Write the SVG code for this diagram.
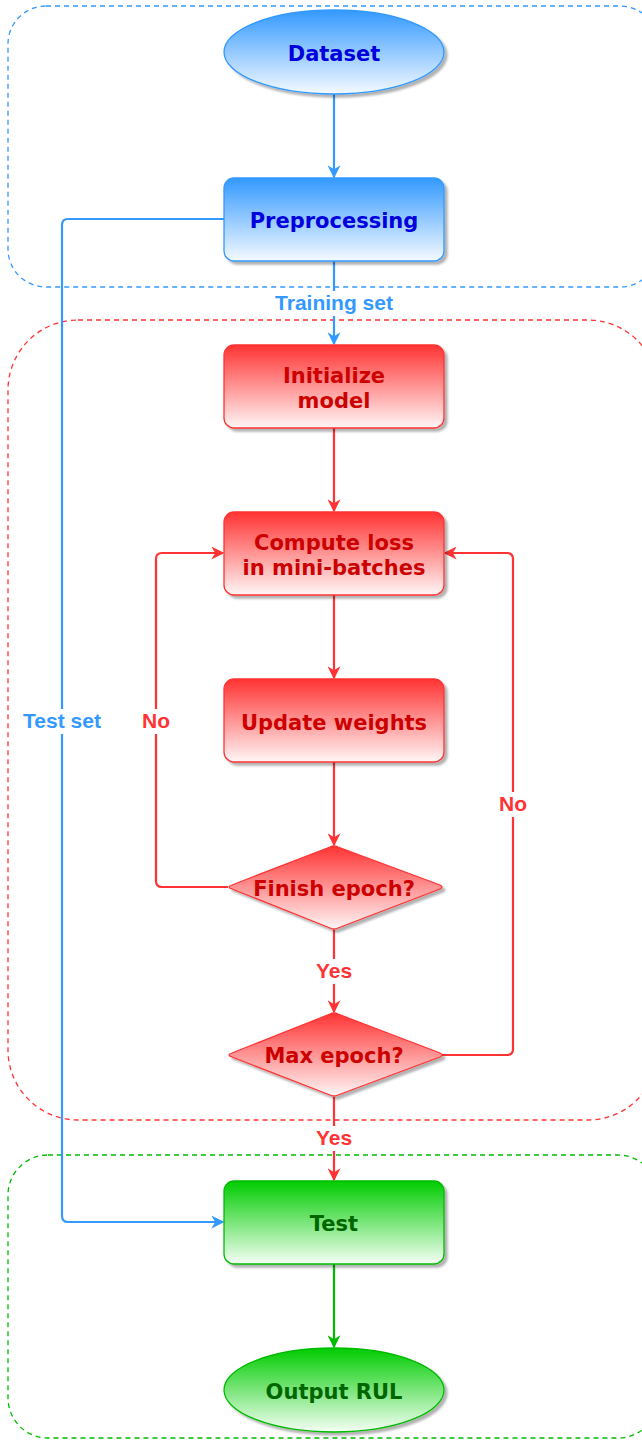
<svg xmlns="http://www.w3.org/2000/svg" width="642" height="1441" viewBox="0 0 642 1441">
<defs>
<linearGradient id="gb" x1="0" y1="0" x2="0" y2="1"><stop offset="0" stop-color="#3399FF"/><stop offset="1" stop-color="#F5FAFF"/></linearGradient>
<linearGradient id="gr" x1="0" y1="0" x2="0" y2="1"><stop offset="0" stop-color="#FF3333"/><stop offset="1" stop-color="#FFF6F6"/></linearGradient>
<linearGradient id="gg" x1="0" y1="0" x2="0" y2="1"><stop offset="0" stop-color="#00CC00"/><stop offset="1" stop-color="#F5FFF5"/></linearGradient>
<filter id="sh" x="-10%" y="-10%" width="125%" height="130%"><feDropShadow dx="3" dy="3" stdDeviation="1.2" flood-color="#000" flood-opacity="0.3"/></filter>
<marker id="ab" viewBox="0 0 10 10" refX="9" refY="5" markerWidth="13" markerHeight="13" markerUnits="userSpaceOnUse" orient="auto"><path d="M0,0 L10,5 L0,10 L3,5 z" fill="#3399FF"/></marker>
<marker id="ar" viewBox="0 0 10 10" refX="9" refY="5" markerWidth="13" markerHeight="13" markerUnits="userSpaceOnUse" orient="auto"><path d="M0,0 L10,5 L0,10 L3,5 z" fill="#FF3333"/></marker>
<marker id="ag" viewBox="0 0 10 10" refX="9" refY="5" markerWidth="13" markerHeight="13" markerUnits="userSpaceOnUse" orient="auto"><path d="M0,0 L10,5 L0,10 L3,5 z" fill="#00BB00"/></marker>
</defs>
<style>
.cont{fill:none;stroke-width:1.3;stroke-dasharray:5 4}
.nt{font-family:"DejaVu Sans",Verdana,sans-serif;font-weight:bold;font-size:21px;text-anchor:middle}
.lb{font-family:"Liberation Sans",Arial,sans-serif;font-weight:bold;font-size:21px;text-anchor:middle}
.blue{fill:url(#gb);stroke:#3399FF;stroke-width:1.3}
.red{fill:url(#gr);stroke:#FF3333;stroke-width:1.3}
.green{fill:url(#gg);stroke:#00BB00;stroke-width:1.3}
.cb{fill:none;stroke:#3399FF;stroke-width:2.2}
.cr{fill:none;stroke:#FF3333;stroke-width:2.2}
.cg{fill:none;stroke:#00BB00;stroke-width:2.2}
</style>
<g id="containers">
<rect class="cont" x="8" y="6" width="650" height="281" rx="38" stroke="#3399FF"/>
<rect class="cont" x="8" y="320" width="650" height="800" rx="70" stroke="#FF3333"/>
<rect class="cont" x="8" y="1155" width="650" height="283" rx="40" stroke="#00BB00"/>
</g>
<g id="connectors">
<path class="cb" d="M334,94 L334,177" marker-end="url(#ab)"/>
<path class="cb" d="M334,261 L334,344" marker-end="url(#ab)"/>
<path class="cb" d="M224,219 L68,219 Q62,219 62,225 L62,1216 Q62,1222 68,1222 L223,1222" marker-end="url(#ab)"/>
<path class="cr" d="M334,428 L334,511" marker-end="url(#ar)"/>
<path class="cr" d="M334,595 L334,678" marker-end="url(#ar)"/>
<path class="cr" d="M334,762 L334,845" marker-end="url(#ar)"/>
<path class="cr" d="M228,887 L162,887 Q156,887 156,881 L156,559 Q156,553 162,553 L223,553" marker-end="url(#ar)"/>
<path class="cr" d="M334,930 L334,1012" marker-end="url(#ar)"/>
<path class="cr" d="M440,1055 L507,1055 Q513,1055 513,1049 L513,559 Q513,553 507,553 L445,553" marker-end="url(#ar)"/>
<path class="cr" d="M334,1097 L334,1180" marker-end="url(#ar)"/>
<path class="cg" d="M334,1264 L334,1347" marker-end="url(#ag)"/>
<rect x="270" y="291" width="128" height="25" fill="#fff"/>
<text class="lb" x="334" y="310" fill="#3399FF">Training set</text>
<rect x="18" y="709" width="88" height="25" fill="#fff"/>
<text class="lb" x="62" y="728" fill="#3399FF">Test set</text>
<rect x="139" y="709" width="34" height="25" fill="#fff"/>
<text class="lb" x="156" y="728" fill="#FF3333">No</text>
<rect x="496" y="792" width="34" height="25" fill="#fff"/>
<text class="lb" x="513" y="811" fill="#FF3333">No</text>
<rect x="313" y="959" width="42" height="25" fill="#fff"/>
<text class="lb" x="334" y="978" fill="#FF3333">Yes</text>
<rect x="313" y="1126" width="42" height="25" fill="#fff"/>
<text class="lb" x="334" y="1145" fill="#FF3333">Yes</text>
</g>
<g id="dataset">
<ellipse class="blue" cx="334" cy="52" rx="110" ry="42" filter="url(#sh)"/>
<text class="nt" x="334" y="61" fill="#0000DD">Dataset</text>
</g>
<g id="preprocessing">
<rect class="blue" x="224" y="178" width="220" height="83" rx="10" filter="url(#sh)"/>
<text class="nt" x="334" y="228" fill="#0000DD">Preprocessing</text>
</g>
<g id="initialize">
<rect class="red" x="224" y="345" width="220" height="83" rx="10" filter="url(#sh)"/>
<text class="nt" x="334" y="383" fill="#CC0000">Initialize</text>
<text class="nt" x="334" y="408" fill="#CC0000">model</text>
</g>
<g id="compute">
<rect class="red" x="224" y="512" width="220" height="83" rx="10" filter="url(#sh)"/>
<text class="nt" x="334" y="550" fill="#CC0000">Compute loss</text>
<text class="nt" x="334" y="575" fill="#CC0000">in mini-batches</text>
</g>
<g id="update">
<rect class="red" x="224" y="679" width="220" height="83" rx="10" filter="url(#sh)"/>
<text class="nt" x="334" y="730" fill="#CC0000">Update weights</text>
</g>
<g id="finish">
<path class="red" d="M330,847 Q334,845 338,847 L440,885 Q444,887 440,889 L338,928 Q334,930 330,928 L232,889 Q226,887 232,885 Z" filter="url(#sh)"/>
<text class="nt" x="334" y="896" fill="#CC0000">Finish epoch?</text>
</g>
<g id="maxepoch">
<path class="red" d="M330,1014 Q334,1012 338,1014 L440,1053 Q444,1055 440,1057 L338,1095 Q334,1097 330,1095 L232,1057 Q226,1055 232,1053 Z" filter="url(#sh)"/>
<text class="nt" x="334" y="1063" fill="#CC0000">Max epoch?</text>
</g>
<g id="test">
<rect class="green" x="224" y="1181" width="220" height="83" rx="10" filter="url(#sh)"/>
<text class="nt" x="334" y="1231" fill="#006600">Test</text>
</g>
<g id="output">
<ellipse class="green" cx="334" cy="1390" rx="110" ry="42" filter="url(#sh)"/>
<text class="nt" x="334" y="1399" fill="#006600">Output RUL</text>
</g>
</svg>
